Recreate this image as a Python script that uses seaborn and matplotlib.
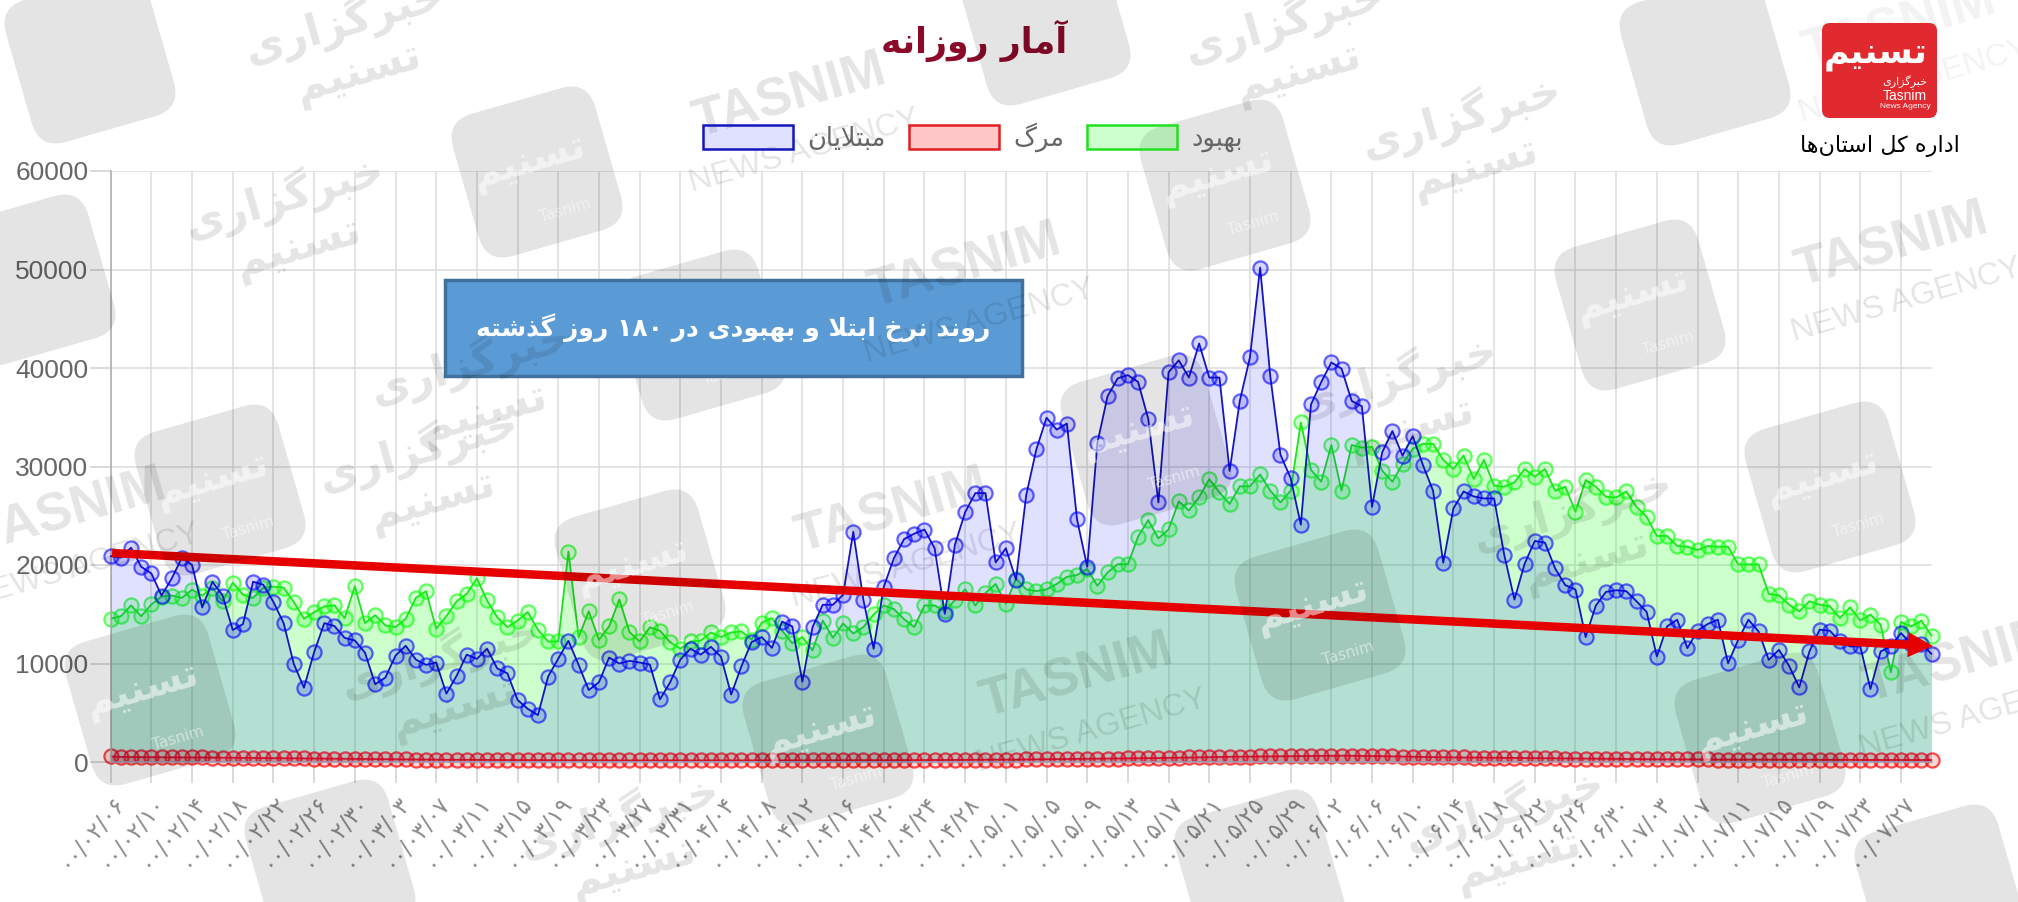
import numpy as np
import pandas as pd
import matplotlib
matplotlib.use("Agg")
import matplotlib.pyplot as plt
from matplotlib.patches import FancyBboxPatch, FancyArrowPatch, Patch, Rectangle
from matplotlib.transforms import Affine2D
import seaborn as sns

infected = [
 20900,20740,21760,19820,19140,16900,18630,20740,20000,15700,
 18300,16900,13400,14000,18300,18000,16250,14100,9960,7550,
 11150,14100,13800,12600,12340,11100,7900,8570,10800,11800,
 10400,9860,10100,6940,8740,10900,10470,11500,9500,9000,
 6300,5400,4760,8670,10500,12300,9860,7300,8100,10600,
 10000,10270,10100,9900,6360,8100,10400,11500,10900,11700,
 10680,6850,9700,12170,12680,11590,14250,13770,8160,13700,
 15960,15960,16980,23360,16430,11500,17780,20700,22630,23180,
 23600,21700,15050,22080,25360,27300,27300,20260,21700,18500,
 27070,31740,34950,33740,34360,24630,19820,32400,37130,38950,
 39280,38590,34840,26350,39570,40780,39030,42490,39030,39030,
 29550,36660,41100,50200,39140,31190,28820,24090,36300,38550,
 40560,39940,36660,36110,25900,31450,33600,31100,33080,30160,
 27540,20230,25740,27470,26960,26760,26760,21010,16490,20130,
 22440,22270,19650,17950,17510,12680,15880,17270,17440,17340,
 16320,15230,10710,13770,14450,11560,13330,14010,14450,10030,
 12410,14450,13260,10370,11390,9760,7580,11220,13430,13330,
 12240,11730,11730,7410,11220,11730,13090,12000,12000,10980]
recovered = [
 14550,14800,15900,14800,16000,16800,16900,16660,17500,16900,
 17700,16300,18200,17000,16660,17700,17800,17700,16250,14550,
 15200,15800,15900,14600,17850,14100,14900,13870,13700,14550,
 16660,17340,13530,14800,16300,17070,18630,16400,14700,13700,
 14350,15230,13430,12240,12240,21350,12650,15300,12400,13770,
 16500,13200,12240,13670,13330,12170,11500,12240,12320,13150,
 12680,13150,13260,12430,14140,14610,13340,12060,12680,11330,
 14360,12610,14070,13050,13700,14980,15890,15520,14500,13700,
 15890,15890,15340,16430,17530,15890,17160,18070,16070,18620,
 17530,17350,17530,18070,18800,18980,19600,17890,19240,20080,
 20080,22880,24560,22700,23610,26460,25540,26890,28710,27370,
 26200,27990,27990,29190,27550,26350,27550,34470,29660,28460,
 32180,27550,32180,31920,32000,29580,28460,30260,31790,32300,
 32300,30670,29750,31110,28730,30670,28050,27950,28390,29750,
 28970,29750,27540,27950,25400,28630,27950,26930,26860,27470,
 25910,24890,22950,22950,21930,21860,21520,21930,21860,21860,
 20060,20060,20060,17070,16930,15980,15300,16320,15980,15810,
 14620,15710,14380,14960,13940,9110,14210,13770,14350,12820]
deaths = [
 560,520,500,500,490,480,470,470,470,460,450,440,430,430,420,410,400,390,380,370,
 350,340,330,320,310,300,290,280,270,260,250,240,240,230,230,220,220,210,200,200,
 200,190,190,180,180,180,170,170,170,170,170,160,160,160,160,160,160,170,170,170,
 170,170,170,170,170,170,170,170,170,170,180,180,180,180,180,180,190,190,190,200,
 200,200,210,210,220,220,230,240,240,250,260,270,270,280,290,300,310,320,330,340,
 360,370,390,400,420,440,460,480,500,510,530,540,550,570,580,590,600,610,620,630,
 640,640,630,620,610,590,570,550,530,510,490,480,470,460,450,440,430,420,400,390,
 380,370,360,350,340,330,320,310,300,300,290,290,280,280,270,270,260,260,250,250,
 250,240,240,240,230,230,230,220,220,220,220,210,210,210,210,200,200,200,200,200]
tick_labels = [
 "۰۰/۰۲/۰۶","۰۰/۰۲/۱۰","۰۰/۰۲/۱۴","۰۰/۰۲/۱۸","۰۰/۰۲/۲۲","۰۰/۰۲/۲۶","۰۰/۰۲/۳۰",
 "۰۰/۰۳/۰۳","۰۰/۰۳/۰۷","۰۰/۰۳/۱۱","۰۰/۰۳/۱۵","۰۰/۰۳/۱۹","۰۰/۰۳/۲۳","۰۰/۰۳/۲۷","۰۰/۰۳/۳۱",
 "۰۰/۰۴/۰۴","۰۰/۰۴/۰۸","۰۰/۰۴/۱۲","۰۰/۰۴/۱۶","۰۰/۰۴/۲۰","۰۰/۰۴/۲۴","۰۰/۰۴/۲۸",
 "۰۰/۰۵/۰۱","۰۰/۰۵/۰۵","۰۰/۰۵/۰۹","۰۰/۰۵/۱۳","۰۰/۰۵/۱۷","۰۰/۰۵/۲۱","۰۰/۰۵/۲۵","۰۰/۰۵/۲۹",
 "۰۰/۰۶/۰۲","۰۰/۰۶/۰۶","۰۰/۰۶/۱۰","۰۰/۰۶/۱۴","۰۰/۰۶/۱۸","۰۰/۰۶/۲۲","۰۰/۰۶/۲۶","۰۰/۰۶/۳۰",
 "۰۰/۰۷/۰۳","۰۰/۰۷/۰۷","۰۰/۰۷/۱۱","۰۰/۰۷/۱۵","۰۰/۰۷/۱۹","۰۰/۰۷/۲۳","۰۰/۰۷/۲۷"]
y_ticks = [0, 10000, 20000, 30000, 40000, 50000, 60000]
series_names = ["مبتلایان", "مرگ", "بهبود"]
title_text = "آمار روزانه"
box_text = "روند نرخ ابتلا و بهبودی در ۱۸۰ روز گذشته"
org_text = "اداره کل استان‌ها"

_F = {'ا':(0xFE8D,0xFE8E),'آ':(0xFE81,0xFE82),'د':(0xFEA9,0xFEAA),'ذ':(0xFEAB,0xFEAC),
      'ر':(0xFEAD,0xFEAE),'ز':(0xFEAF,0xFEB0),'و':(0xFEED,0xFEEE),
      'ب':(0xFE8F,0xFE90,0xFE91,0xFE92),'پ':(0xFB56,0xFB57,0xFB58,0xFB59),
      'ت':(0xFE95,0xFE96,0xFE97,0xFE98),'خ':(0xFEA5,0xFEA6,0xFEA7,0xFEA8),
      'س':(0xFEB1,0xFEB2,0xFEB3,0xFEB4),'ش':(0xFEB5,0xFEB6,0xFEB7,0xFEB8),
      'ل':(0xFEDD,0xFEDE,0xFEDF,0xFEE0),'م':(0xFEE1,0xFEE2,0xFEE3,0xFEE4),
      'ن':(0xFEE5,0xFEE6,0xFEE7,0xFEE8),'ه':(0xFEE9,0xFEEA,0xFEEB,0xFEEC),
      'ی':(0xFBFC,0xFBFD,0xFBFE,0xFBFF),'ک':(0xFB8E,0xFB8F,0xFB90,0xFB91),
      'گ':(0xFB92,0xFB93,0xFB94,0xFB95)}

def shape(text):
    words = []
    for w in text.split(' '):
        if w and w[0] in '۰۱۲۳۴۵۶۷۸۹':
            words.append(w)
            continue
        out, i = [], 0
        while i < len(w):
            c = w[i]
            if c == '\u200c':
                i += 1
                continue
            prev = w[i-1] if i else ''
            pj = prev in _F and len(_F[prev]) == 4
            if c == 'ل' and i+1 < len(w) and w[i+1] == 'ا':
                out.append(chr(0xFEFC if pj else 0xFEFB))
                i += 2
                continue
            nxt = w[i+1] if i+1 < len(w) else ''
            nj = len(_F[c]) == 4 and nxt in _F
            f = _F[c]
            idx = 3 if pj and nj else 1 if pj else 2 if nj else 0
            out.append(chr(f[idx]))
            i += 1
        words.append(''.join(reversed(out)))
    return ' '.join(reversed(words))

sns.set_theme(style="whitegrid")
plt.rcParams['font.family'] = ['DejaVu Sans']
W, H = 2018, 902
fig = plt.figure(figsize=(W/100, H/100), dpi=100, facecolor='white')
L, R, T, B = 110.7, 1931.5, 171, 762
ax = fig.add_axes([L/W, (H-B)/H, (R-L)/W, (B-T)/H])
ax.set_facecolor('none')
days = np.arange(len(infected))
df = pd.DataFrame({'day': days, 'infected': infected, 'deaths': deaths, 'recovered': recovered})

styles = [('recovered', (0, 1, 0), '#20e020', 0.20, 1, 0.6),
          ('deaths', (1, 0, 0), '#e02020', 0.20, 2, 0.7),
          ('infected', (0, 0, 1), '#1515c0', 0.12, 3, 0.6)]
for col, rgb, line, fa, z, ea in styles:
    ax.fill_between(df['day'], df[col], 0, color=rgb + (fa,), lw=0, zorder=z)
    sns.lineplot(data=df, x='day', y=col, ax=ax, color=line, lw=1.3, marker='o',
                 markersize=10.2, markerfacecolor=rgb + (0.16,), markeredgecolor=rgb + (ea,),
                 markeredgewidth=1.6, estimator=None, clip_on=False, zorder=z + 0.5, legend=False)

ax.set_xlim(0, len(infected) - 1)
ax.set_ylim(0, 60000)
ax.set_yticks(y_ticks)
ax.set_xticks(np.arange(0, len(infected), 4))
ax.set_xticklabels(tick_labels, rotation=50, ha='right', rotation_mode='anchor',
                   fontsize=16.5, color='#8a8a8a')
ax.set_xlabel('')
ax.set_ylabel('')
ax.set_axisbelow(True)
ax.grid(True, color='#dcdcdc', lw=1.1)
ax.tick_params(axis='x', length=15, width=1.1, color='#d0d0d0', pad=6, bottom=True)
ax.tick_params(axis='y', length=15, width=1.1, color='#d0d0d0', pad=1, left=True,
               labelsize=19, labelcolor='#666666')
for t in ax.get_yticklabels():
    t.set_family('Liberation Sans')
for s in ('top', 'right'):
    ax.spines[s].set_visible(False)
for s in ('left', 'bottom'):
    ax.spines[s].set_color('#b0b0b0')
    ax.spines[s].set_linewidth(1.2)

handles = [Patch(facecolor=(0, 0, 1, 0.12), edgecolor='#1515c0', lw=1.8),
           Patch(facecolor=(1, 0, 0, 0.22), edgecolor='#e02020', lw=1.8),
           Patch(facecolor=(0, 1, 0, 0.20), edgecolor='#20e020', lw=1.8)]
leg = fig.legend(handles, [shape(s) for s in series_names], ncol=3, frameon=False,
                 loc='center', bbox_to_anchor=(973/W, 1 - 137.5/H), fontsize=18.5,
                 handlelength=3.5, handleheight=1.05, handletextpad=0.55, columnspacing=0.9,
                 labelcolor='#666666')

ov = fig.add_axes([0, 0, 1, 1], zorder=5)
ov.set_xlim(0, W)
ov.set_ylim(H, 0)
ov.axis('off')
ov.patch.set_alpha(0)

ov.add_patch(FancyArrowPatch((112, 553), (1933, 646), shrinkA=0, shrinkB=0, color='#e60000', lw=0,
             arrowstyle='simple,head_length=1.0,head_width=1.0,tail_width=0.34',
             mutation_scale=18, zorder=1))
ov.add_patch(Rectangle((445, 280), 577, 96, facecolor='#5b9bd5', edgecolor='#41719c', lw=2.5, zorder=3.1))
ov.text(733, 328, shape(box_text), color='white', fontsize=18, fontweight='bold', ha='center', va='center', zorder=3.3)
ov.text(974, 41, shape(title_text), color='#8b0a2a', fontsize=25, fontweight='bold', ha='center', va='center', zorder=1.5)

wm = (0, 0, 0, 0.105)
logos = [(90,58),(220,490),(150,700),(537,172),(330,865),(640,575),(700,335),(1045,20),(1225,185),
         (1146,440),(828,740),(1320,615),(1260,875),(1705,60),(1640,305),(1830,487),(1760,738),(1940,890),(30,280)]
for cx, cy in logos:
    tr = Affine2D().rotate_deg_around(cx, cy, -16) + ov.transData
    p = FancyBboxPatch((cx-62, cy-62), 124, 124, boxstyle='round,pad=12,rounding_size=28', fc=wm, ec='none',
                       transform=tr, zorder=3)
    ov.add_patch(p)
    if 80 < cx < 1900 and 80 < cy < 800:
        ov.text(cx-8, cy-10, shape("تسنیم"), color=(1, 1, 1, 0.55), fontsize=28, fontweight='bold', rotation=16,
                ha='center', va='center', zorder=3.05)
        ov.text(cx+28, cy+38, "Tasnim", color=(1, 1, 1, 0.5), fontsize=11, rotation=16, ha='center', va='center',
                zorder=3.05)
pers = [(350,45),(1290,45),(1467,140),(290,220),(476,386),(1403,400),(446,680),(1578,533),(1510,833),(625,840),(424,473)]
for cx, cy in pers:
    ov.text(cx, cy, shape("خبرگزاری") + "\n" + shape("تسنیم"), color=wm, fontsize=31, fontweight='bold', rotation=16,
            ha='center', va='center', linespacing=1.2, zorder=3.2)
eng = [(790,115),(965,285),(892,530),(1077,695),(1892,264),(1960,680),(1900,45),(70,530)]
for cx, cy in eng:
    ov.text(cx, cy-18, "TASNIM", color=wm, fontsize=38, fontweight='bold', family='Liberation Sans', rotation=16,
            ha='center', va='center', zorder=3.2)
    ov.text(cx+14, cy+36, "NEWS AGENCY", color=wm, fontsize=23, family='Liberation Sans', rotation=16,
            ha='center', va='center', zorder=3.2)

ov.add_patch(Rectangle((1800, 0), 218, 170, fc='white', ec='none', alpha=0.55, zorder=5))
ov.add_patch(FancyBboxPatch((1826, 27), 107, 87, boxstyle='round,pad=4,rounding_size=8', fc='#e12a2f', ec='none', zorder=6))
ov.text(1876, 54, shape("تسنیم"), color='white', fontsize=25, fontweight='bold', ha='center', va='center', zorder=7)
ov.text(1905, 82, shape("خبرگزاری"), color='white', fontsize=8, ha='center', va='center', zorder=7)
ov.text(1905, 96, "Tasnim", color='white', fontsize=10, family='Liberation Sans', ha='center', va='center', zorder=7)
ov.text(1905, 106, "News Agency", color='white', fontsize=6, family='Liberation Sans', ha='center', va='center', zorder=7)
ov.text(1880, 146, shape(org_text), color='black', fontsize=16, ha='center', va='center', zorder=7)

fig.savefig('out.png', dpi=100, facecolor='white')
